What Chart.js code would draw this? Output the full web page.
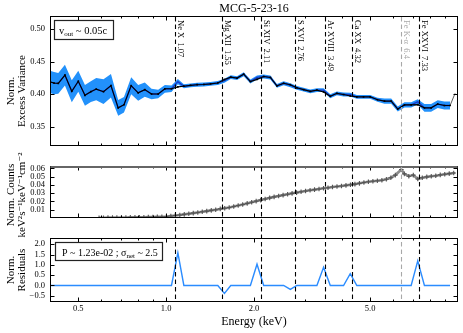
<!DOCTYPE html>
<html><head><meta charset="utf-8">
<script src="https://cdn.jsdelivr.net/npm/chart.js"></script>
<style>
html,body{margin:0;padding:0;background:#fff;}
#wrap{position:relative;width:463px;height:333px;overflow:hidden;}
canvas{position:absolute;left:0;top:0;}
</style></head><body>
<div id="wrap">
<canvas id="c1" width="463" height="333"></canvas>
<canvas id="c2" width="463" height="333"></canvas>
<canvas id="c3" width="463" height="333"></canvas>
</div>
<script>
// ---------------- data ----------------
const binEnergy = [0.397,0.413,0.427,0.450,0.475,0.500,0.527,0.552,0.576,0.610,0.647,0.685,0.717,0.759,0.802,0.845,0.891,0.939,0.990,1.043,
  1.097,1.150,1.212,1.277,1.346,1.419,1.503,1.584,1.665,1.749,1.844,1.944,2.048,2.159,2.276,2.397,2.527,2.664,2.806,2.958,
  3.119,3.285,3.463,3.651,3.846,4.054,4.274,4.502,4.746,5.003,5.299,5.600,5.903,6.218,6.555,6.910,7.279,7.673,8.088,8.520,
  8.981,9.394];
const modelVar = [0.419,0.4168,0.4163,0.429,0.4042,0.4196,0.398,0.4036,0.4075,0.4036,0.4128,0.3787,0.3835,0.4128,0.4018,0.4067,0.400,0.400,0.408,0.408,
  0.411,0.412,0.4133,0.4143,0.4147,0.4156,0.417,0.4223,0.4259,0.4245,0.4305,0.4192,0.4225,0.4270,0.4255,0.4125,0.4165,0.4143,0.4095,0.4067,
  0.4040,0.4060,0.4032,0.3965,0.4010,0.3992,0.3970,0.3956,0.3956,0.3956,0.3912,0.3890,0.3890,0.3769,0.3832,0.3832,0.3836,0.3787,0.3787,0.3845,
  0.3823,0.3823];
const dataVar = [0.419,0.4168,0.4163,0.429,0.4042,0.4196,0.398,0.4036,0.4075,0.4036,0.4128,0.3787,0.3835,0.4128,0.4018,0.4067,0.400,0.400,0.408,0.408,
  0.419,0.412,0.4133,0.4143,0.4147,0.4156,0.417,0.4205,0.4259,0.4245,0.4305,0.4192,0.4255,0.4270,0.4255,0.4125,0.4165,0.4135,0.4095,0.4067,
  0.4040,0.4060,0.4060,0.3965,0.4010,0.3992,0.3990,0.3956,0.3956,0.3956,0.3912,0.3890,0.3890,0.3769,0.3832,0.3832,0.3880,0.3787,0.3787,0.3845,
  0.3823,0.3823];
const varErr = [0.017,0.017,0.016,0.016,0.017,0.016,0.016,0.016,0.017,0.019,0.018,0.012,0.012,0.013,0.012,0.011,0.008,0.0065,0.006,0.005,
  0.004,0.003,0.003,0.003,0.003,0.003,0.003,0.003,0.003,0.003,0.003,0.003,0.003,0.003,0.003,0.003,0.003,0.003,0.003,0.003,
  0.003,0.003,0.003,0.003,0.003,0.003,0.003,0.003,0.003,0.003,0.003,0.004,0.004,0.004,0.004,0.004,0.004,0.006,0.006,0.006,
  0.006,0.006];
const residuals = [0,0,0,0,0,0,0,0,0,0,0,0,0,0,0,0,0,0,0,0,
  1.58,0,0,0,0,0,0,-0.38,0,0,0,0,1.03,0,0,0,0,-0.19,0,0,
  0,0,0.88,0,0,0,0.57,0,0,0,0,0,0,0,0,0,1.19,0,0,0,
  0,0];
const tailEnergy = [9.394, 9.772];
const tailVar = [0.3823, 0.401];

const countEnergy = [0.589,0.610,0.632,0.655,0.678,0.703,0.728,0.754,0.782,0.810,0.839,0.869,0.901,0.933,0.967,1.002,1.038,1.075,1.114,1.154,
  1.196,1.239,1.284,1.330,1.378,1.428,1.479,1.533,1.588,1.645,1.705,1.766,1.830,1.896,1.964,2.035,2.109,2.185,2.264,2.345,
  2.430,2.517,2.608,2.702,2.800,2.901,3.005,3.114,3.226,3.342,3.463,3.588,3.717,3.851,3.990,4.134,4.283,4.437,4.597,4.763,
  4.935,5.113,5.297,5.488,5.686,5.891,6.104,6.400,6.552,6.788,7.033,7.287,7.550,7.822,8.104,8.397,8.700,9.013,9.339,9.675];
const countVal = [0.0003,0.0003,0.0004,0.0004,0.0005,0.0005,0.0006,0.0007,0.0008,0.0008,0.0009,0.0010,0.0012,0.0014,0.0016,0.0019,0.0024,0.0030,0.0037,0.0044,
  0.0052,0.0059,0.0067,0.0075,0.0083,0.0092,0.0100,0.0110,0.0119,0.0128,0.0140,0.0152,0.0164,0.0177,0.0191,0.0204,0.0217,0.0230,0.0244,0.0256,
  0.0266,0.0277,0.0288,0.0298,0.0308,0.0318,0.0327,0.0336,0.0344,0.0352,0.0360,0.0367,0.0375,0.0382,0.0388,0.0395,0.0402,0.0410,0.0420,0.0430,
  0.0440,0.0446,0.0452,0.0457,0.0470,0.0488,0.0520,0.0587,0.0535,0.0506,0.0520,0.0472,0.0488,0.0498,0.0505,0.0512,0.0522,0.0530,0.0538,0.0545];
const countErr = [0.0003,0.0003,0.0003,0.0003,0.0003,0.0003,0.0003,0.0003,0.0003,0.0003,0.0003,0.0003,0.0003,0.0003,0.0003,0.0006,0.0006,0.0006,0.0006,0.0006,
  0.0006,0.0006,0.0006,0.0006,0.0006,0.0006,0.0006,0.0006,0.0006,0.0006,0.0009,0.0009,0.0009,0.0009,0.0009,0.0009,0.0009,0.0009,0.0009,0.0009,
  0.0009,0.0009,0.0009,0.0009,0.0009,0.0009,0.0009,0.0009,0.0009,0.0009,0.0009,0.0009,0.0009,0.0009,0.0009,0.0009,0.0009,0.0009,0.0009,0.0009,
  0.0012,0.0012,0.0012,0.0012,0.0012,0.0012,0.0012,0.0012,0.0012,0.0012,0.0012,0.0012,0.0012,0.0012,0.0012,0.0012,0.0012,0.0012,0.0012,0.0012];

const lineEnergy = [1.07,1.55,2.11,2.76,3.49,4.32,6.4,7.33];
const lineName = ['Ne X','Mg XII','Si XIV','S XVI','Ar XVIII','Ca XX','Fe K-\u03b1','Fe XXVI'];
const lineLabel = ['1.07','1.55','2.11','2.76','3.49','4.32','6.4','7.33'];

const xMajor = [0.5,1.0,2.0,5.0];
const xMinor = [0.6,0.7,0.8,0.9,3,4,6,7,8,9];
const varTicks = [0.35,0.40,0.45,0.50];
const countTicks = [0.01,0.02,0.03,0.04,0.05,0.06];
const residTicks = [-0.5,0.0,0.5,1.0,1.5,2.0];

// ---------------- helpers ----------------
const SERIF = "'Liberation Serif','DejaVu Serif','Times New Roman',serif";
const pts = (xs, ys) => xs.map((e,i)=>({x:e,y:ys[i]}));

function xScale(show){
  return {type:'logarithmic', min:0.4, max:10, display:show,
    afterBuildTicks: s => { s.ticks = xMajor.map(v=>({value:v})); },
    afterFit: s => { s.height = 20; },
    grid:{display:false, drawTicks:false}, border:{display:false},
    ticks:{font:{family:SERIF,size:8.5}, color:'#000', padding:2, maxRotation:0, autoSkip:false,
      callback: v => Number(v).toFixed(1)}};
}
function yScale(min,max,ticks,dec){
  return {type:'linear', min, max,
    afterBuildTicks: s => { s.ticks = ticks.map(v=>({value:v})); },
    afterFit: s => { s.width = 50; },
    grid:{display:false, drawTicks:false}, border:{display:false},
    ticks:{font:{family:SERIF,size:8.5}, color:'#000', padding:5, autoSkip:false,
      callback: v => (v<0?'\u2212':'') + Math.abs(v).toFixed(dec)}};
}
function frame(yTicks, topColor){
  return {id:'frame', afterDraw(chart){
    const {ctx, chartArea:a, scales:{x,y}} = chart;
    ctx.save();
    ctx.strokeStyle='#000'; ctx.lineWidth=1; ctx.setLineDash([]);
    const L=Math.round(a.left)+0.5, R=Math.round(a.right)-0.5, T=Math.round(a.top)+0.5, B=Math.round(a.bottom)-0.5;
    ctx.strokeRect(L,T,R-L,B-T);
    ctx.beginPath();
    xMajor.forEach(v=>{const p=Math.round(x.getPixelForValue(v))+0.5; ctx.moveTo(p,T); ctx.lineTo(p,T+4); ctx.moveTo(p,B); ctx.lineTo(p,B-4);});
    xMinor.forEach(v=>{const p=Math.round(x.getPixelForValue(v))+0.5; ctx.moveTo(p,T); ctx.lineTo(p,T+2); ctx.moveTo(p,B); ctx.lineTo(p,B-2);});
    yTicks.forEach(v=>{const p=Math.round(y.getPixelForValue(v))+0.5; ctx.moveTo(L,p); ctx.lineTo(L+4,p); ctx.moveTo(R,p); ctx.lineTo(R-4,p);});
    ctx.stroke();
    if (topColor){ ctx.strokeStyle=topColor; ctx.lineWidth=2; ctx.beginPath(); ctx.moveTo(L,T+0.5); ctx.lineTo(R,T+0.5); ctx.stroke(); }
    ctx.restore();
  }};
}
function vText(ctx, lines, x0, dx, yc, size){
  ctx.save(); ctx.fillStyle='#000'; ctx.font=size+'px '+SERIF; ctx.textAlign='center'; ctx.textBaseline='middle';
  lines.forEach((t,i)=>{ ctx.save(); ctx.translate(x0+i*dx, yc); ctx.rotate(-Math.PI/2); ctx.fillText(t,0,0); ctx.restore(); });
  ctx.restore();
}
function baseOptions(pad, xo, yo){
  return {responsive:false, animation:false, events:[],
    layout:{padding:pad},
    plugins:{legend:{display:false}, tooltip:{enabled:false}, title:{display:false}},
    elements:{line:{tension:0}},
    scales:{x:xo, y:yo}};
}

// ---------------- top panel ----------------
new Chart(document.getElementById('c1'), {
  type:'line',
  data:{datasets:[
    {data:pts(binEnergy, modelVar), borderColor:'#000', borderWidth:1.1, pointStyle:'rect', pointRadius:1.2,
      pointBackgroundColor:'#000', pointBorderWidth:0, order:0},
    {data:pts(binEnergy, dataVar), borderColor:'#1838c8', borderWidth:1.3, pointRadius:0, order:1},
    {data:pts(tailEnergy, tailVar), borderColor:'#333', borderWidth:0.8, pointRadius:0, order:2},
    {data:pts(binEnergy, dataVar.map((v,i)=>v+varErr[i])), borderColor:'rgba(0,0,0,0)', borderWidth:1, pointRadius:0, fill:false, order:3},
    {data:pts(binEnergy, dataVar.map((v,i)=>v-varErr[i])), borderColor:'rgba(0,0,0,0)', borderWidth:1, pointRadius:0, fill:'-1',
      backgroundColor:'#2291fb', order:4}
  ]},
  options: baseOptions({left:0,right:5,top:16,bottom:167}, xScale(false), yScale(0.32,0.52,varTicks,2)),
  plugins:[frame(varTicks, null)]
});

// ---------------- middle panel ----------------
const errBars = {id:'errBars', beforeDatasetsDraw(chart){
  const {ctx, scales:{x,y}, chartArea:a} = chart;
  ctx.save(); ctx.beginPath(); ctx.rect(a.left,a.top,a.right-a.left,a.bottom-a.top); ctx.clip();
  ctx.strokeStyle='#8c8c8c'; ctx.lineWidth=1; ctx.beginPath();
  countEnergy.forEach((e,i)=>{ const px=Math.round(x.getPixelForValue(e))+0.5;
    ctx.moveTo(px, y.getPixelForValue(countVal[i]-countErr[i])); ctx.lineTo(px, y.getPixelForValue(countVal[i]+countErr[i])); });
  ctx.stroke(); ctx.restore();
}};
new Chart(document.getElementById('c2'), {
  type:'line',
  data:{datasets:[
    {data:pts(countEnergy, countVal), showLine:true, borderColor:'rgba(120,120,120,0.85)', borderWidth:2.6,
      pointStyle:'cross', pointRadius:2.3, pointBorderColor:'#555', pointBorderWidth:1.1}
  ]},
  options: baseOptions({left:0,right:5,top:166,bottom:95}, xScale(false), yScale(0,0.063,countTicks,2)),
  plugins:[errBars, frame(countTicks, '#666')]
});

// ---------------- bottom panel ----------------
const overlay = {id:'overlay', afterDraw(chart){
  const ctx=chart.ctx, xs=chart.scales.x;
  ctx.save();
  lineEnergy.forEach((e,i)=>{
    const px=Math.round(xs.getPixelForValue(e))+0.5;
    const col = (lineName[i].indexOf('K-')>=0) ? '#a8a8a8' : '#000';
    ctx.strokeStyle=col; ctx.lineWidth=1.1; ctx.setLineDash([4.5,3]);
    ctx.beginPath(); ctx.moveTo(px,17); ctx.lineTo(px,301); ctx.stroke();
    ctx.setLineDash([]);
    ctx.save(); ctx.translate(px+2, 20); ctx.rotate(Math.PI/2);
    ctx.fillStyle=col; ctx.font='8.5px '+SERIF; ctx.textAlign='left'; ctx.textBaseline='alphabetic';
    ctx.fillText(lineName[i]+'  '+lineLabel[i],0,0);
    ctx.restore();
  });
  // title and axis titles
  ctx.fillStyle='#000'; ctx.textAlign='center'; ctx.textBaseline='middle';
  ctx.font='12px '+SERIF; ctx.fillText('MCG-5-23-16', 254, 9);
  ctx.fillText('Energy (keV)', 254, 322);
  vText(ctx, ['Norm.','Excess Variance'], 11.5, 11, 91, 11);
  vText(ctx, ['Norm. Counts','keV\u00b2s\u207b\u00b9keV\u207b\u00b9cm\u207b\u00b2'], 11.5, 10.5, 195, 11);
  vText(ctx, ['Norm.','Residuals'], 11.5, 11, 270, 11);
  // box 1
  ctx.fillStyle='#fff'; ctx.strokeStyle='#222'; ctx.lineWidth=1.2;
  ctx.fillRect(54.5,20.5,59,19); ctx.strokeRect(54.5,20.5,59,19);
  ctx.fillStyle='#000'; ctx.textAlign='left'; ctx.textBaseline='alphabetic';
  let xx=59; ctx.font='10.5px '+SERIF; ctx.fillText('v', xx, 33.5); xx+=ctx.measureText('v').width;
  ctx.font='7px '+SERIF; ctx.fillText('out', xx, 36); xx+=ctx.measureText('out').width;
  ctx.font='10.5px '+SERIF; ctx.fillText(' ~ 0.05c', xx, 33.5);
  // box 2
  ctx.fillStyle='#fff'; ctx.fillRect(55.5,242.5,107,18); ctx.strokeRect(55.5,242.5,107,18);
  ctx.fillStyle='#000';
  xx=62; ctx.font='10px '+SERIF; ctx.fillText('P ~ 1.23e-02 ; \u03c3', xx, 255.5); xx+=ctx.measureText('P ~ 1.23e-02 ; \u03c3').width;
  ctx.font='7px '+SERIF; ctx.fillText('net', xx, 258); xx+=ctx.measureText('net').width;
  ctx.font='10px '+SERIF; ctx.fillText(' ~ 2.5', xx, 255.5);
  ctx.restore();
}};
new Chart(document.getElementById('c3'), {
  type:'line',
  data:{datasets:[
    {data:pts(binEnergy, residuals), borderColor:'#2b8cff', borderWidth:1.4, pointRadius:0}
  ]},
  options: baseOptions({left:0,right:5,top:238,bottom:11}, xScale(true), yScale(-0.8,2.3,residTicks,1)),
  plugins:[frame(residTicks, null), overlay]
});
</script>
</body></html>
